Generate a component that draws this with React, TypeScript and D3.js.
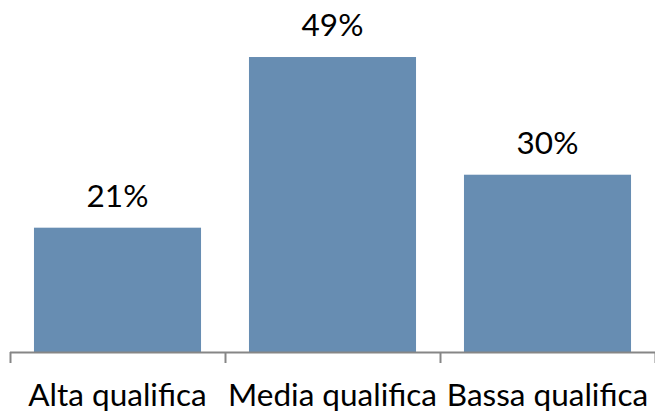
import React from "react";
import * as d3 from "d3";

const categories = ["Alta qualifica", "Media qualifica", "Bassa qualifica"];
const values = [20.65, 49, 29.45];
const labels = ["21%", "49%", "30%"];

export default function App() {
  const W = 655, H = 415;
  const x = d3.scaleBand<string>().domain(categories).range([10, 655]).paddingInner(0.223).paddingOuter(0.1115);
  const y = d3.scaleLinear().domain([0, 50]).range([352, 51]);
  const ticks = [10, ...categories.map((c) => (x(c) as number) + x.bandwidth() + (x.step() - x.bandwidth()) / 2)];
  const font = "Lato, 'Open Sans', sans-serif";
  return (
    <svg width={W} height={H} style={{ position: "absolute", left: 0, top: 0 }}>
      <rect width={W} height={H} fill="#fff" />
      {categories.map((c, i) => (
        <g key={c}>
          <rect x={x(c)} y={y(values[i])} width={x.bandwidth()} height={y(0) - y(values[i])} fill="#678DB2" />
          <text x={(x(c) as number) + x.bandwidth() / 2} y={y(values[i]) - 21} textAnchor="middle" fontFamily={font} fontSize={31.5} fill="#000">{labels[i]}</text>
          <text x={(x(c) as number) + x.bandwidth() / 2} y={406} textAnchor="middle" fontFamily={font} fontSize={31.5} fill="#000">{c}</text>
        </g>
      ))}
      <line x1={10} x2={655} y1={352.5} y2={352.5} stroke="#868686" strokeWidth={2} />
      {ticks.map((t, i) => (
        <line key={i} x1={Math.round(t) + 0.5} x2={Math.round(t) + 0.5} y1={352} y2={363} stroke="#868686" strokeWidth={2} />
      ))}
    </svg>
  );
}
